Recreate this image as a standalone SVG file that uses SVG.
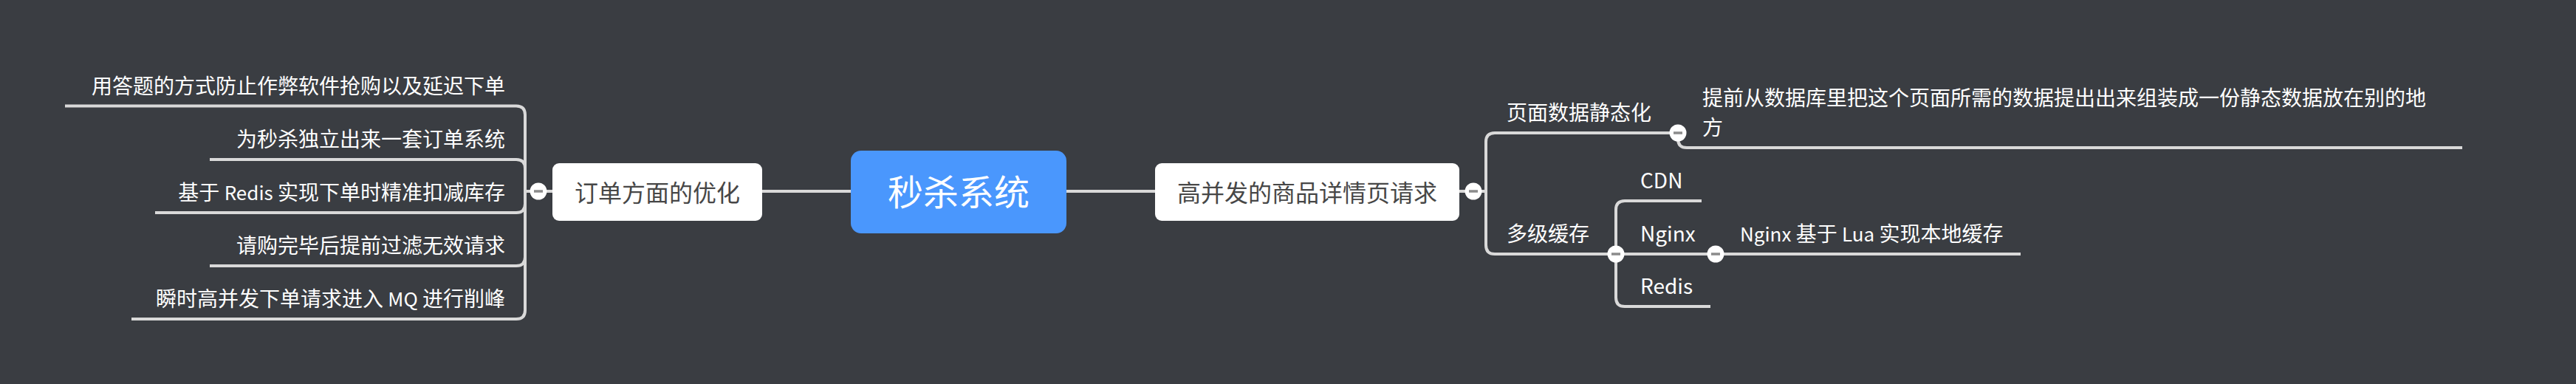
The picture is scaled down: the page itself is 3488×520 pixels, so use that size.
<svg xmlns="http://www.w3.org/2000/svg" width="3488" height="520" viewBox="0 0 3488 520">
<style>
.bg{fill:#3a3d42}
#connectors path{fill:none;stroke:#d9d9d9;stroke-width:4}
text{font-family:"Noto Sans CJK SC","Noto Sans",sans-serif}
.root rect{fill:#4a97fd}
.root text{fill:#ffffff;font-size:48px;text-anchor:middle}
.main rect{fill:#ffffff}
.main text{fill:#474747;font-size:32px;text-anchor:middle}
.leaf text{fill:#ffffff;font-size:28px}
.left text{text-anchor:end}
.lat{font-size:26px}
</style>
<defs>
<g id="fold"><circle r="11.5" fill="#ffffff"/><rect x="-6" y="-1.75" width="12" height="3.5" fill="#8c8c8c"/></g>
</defs>
<rect class="bg" x="0" y="0" width="3488" height="520"/>
<g id="connectors">
<path d="M1444 259 H1564"/>
<path d="M1032 259 H1152"/>
<path d="M729 259 H748"/>
<path d="M729 259 H711 V155.5 Q711 143.5 699 143.5 H88"/>
<path d="M711 259 V228 Q711 216 699 216 H284"/>
<path d="M711 259 V276 Q711 288 699 288 H210"/>
<path d="M711 259 V348 Q711 360 699 360 H284"/>
<path d="M711 259 V420 Q711 432 699 432 H178"/>
<path d="M1976 259 H2012 V192 Q2012 180 2024 180 H2272"/>
<path d="M2012 259 V332 Q2012 344 2024 344 H2188"/>
<path d="M2272 180 V188 Q2272 200 2284 200 H3334"/>
<path d="M2188 344 V284 Q2188 272 2200 272 H2304"/>
<path d="M2188 344 H2323"/>
<path d="M2188 344 V403 Q2188 415 2200 415 H2316"/>
<path d="M2323 344 H2736"/>
</g>
<g id="node-root" class="root">
<rect x="1152" y="204" width="292" height="112" rx="14"/>
<text x="1298" y="278">秒杀系统</text>
</g>
<g id="node-order" class="main">
<rect x="748" y="221" width="284" height="78" rx="9"/>
<text x="890" y="272.5">订单方面的优化</text>
</g>
<g id="node-detail" class="main">
<rect x="1564" y="221" width="412" height="78" rx="9"/>
<text x="1770" y="272.5">高并发的商品详情页请求</text>
</g>
<g id="node-o1" class="leaf left"><text x="684" y="126.7">用答题的方式防止作弊软件抢购以及延迟下单</text></g>
<g id="node-o2" class="leaf left"><text x="684" y="199.2">为秒杀独立出来一套订单系统</text></g>
<g id="node-o3" class="leaf left"><text x="684" y="271.2">基于 <tspan class="lat">Redis</tspan> 实现下单时精准扣减库存</text></g>
<g id="node-o4" class="leaf left"><text x="684" y="343.2">请购完毕后提前过滤无效请求</text></g>
<g id="node-o5" class="leaf left"><text x="684" y="415.2">瞬时高并发下单请求进入 <tspan class="lat">MQ</tspan> 进行削峰</text></g>
<g id="node-static" class="leaf"><text x="2040" y="163.2">页面数据静态化</text></g>
<g id="node-static-desc" class="leaf"><text x="2305" y="142.5">提前从数据库里把这个页面所需的数据提出出来组装成一份静态数据放在别的地</text><text x="2305" y="182.5">方</text></g>
<g id="node-cache" class="leaf"><text x="2040" y="327.2">多级缓存</text></g>
<g id="node-cdn" class="leaf"><text x="2221" y="255" class="lat">CDN</text></g>
<g id="node-nginx" class="leaf"><text x="2221" y="327.2" class="lat">Nginx</text></g>
<g id="node-redis" class="leaf"><text x="2221" y="398.2" class="lat">Redis</text></g>
<g id="node-nginx-lua" class="leaf"><text x="2356" y="327.2"><tspan class="lat">Nginx</tspan> 基于 <tspan class="lat">Lua</tspan> 实现本地缓存</text></g>
<g id="folds">
<use href="#fold" x="729" y="259"/>
<use href="#fold" x="1995" y="259"/>
<use href="#fold" x="2272" y="180"/>
<use href="#fold" x="2188" y="344"/>
<use href="#fold" x="2323" y="344"/>
</g>
</svg>
